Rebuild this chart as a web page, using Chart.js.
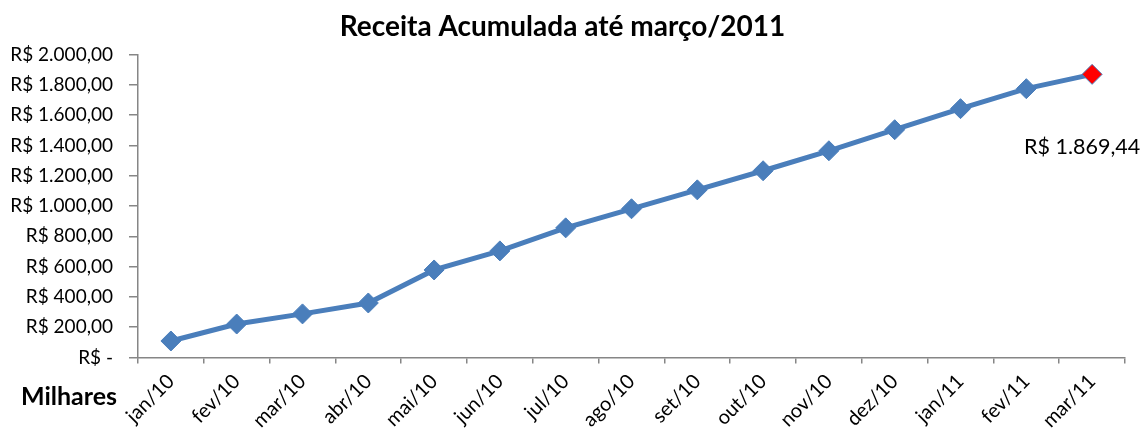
<!DOCTYPE html>
<html>
<head>
<meta charset="utf-8">
<script src="https://cdn.jsdelivr.net/npm/chart.js@4"></script>
<style>
  html, body { margin: 0; padding: 0; background: #fff; }
  #wrap { width: 1148px; height: 428px; }
</style>
</head>
<body>
<div id="wrap"><canvas id="receitaChart" width="1148" height="428"></canvas></div>
<script>
const months = ['jan/10', 'fev/10', 'mar/10', 'abr/10', 'mai/10', 'jun/10', 'jul/10',
                'ago/10', 'set/10', 'out/10', 'nov/10', 'dez/10', 'jan/11', 'fev/11', 'mar/11'];
const receita = [109, 221, 288, 360, 578, 704, 856, 982, 1107, 1233, 1365, 1504, 1643, 1775, 1869.44];
const yTicks = [0, 200, 400, 600, 800, 1000, 1200, 1400, 1600, 1800, 2000];

const FONT = 'Lato, "Open Sans", sans-serif';
const BLUE = '#4A7EBB';
const AXIS = '#868686';

// formato moeda brasileiro, ex.: R$ 1.869,44
function brl(v) {
    if (v === 0) return 'R$ -';
    const parts = v.toFixed(2).split('.');
    const inteiro = parts[0].replace(/\B(?=(\d{3})+(?!\d))/g, '.');
    return 'R$ ' + inteiro + ',' + parts[1];
}

const extras = {
    id: 'extras',
    afterDraw(chart) {
        const ctx = chart.ctx;
        ctx.save();
        // rótulo "Milhares" embaixo do eixo
        ctx.fillStyle = '#000';
        ctx.font = 'bold 25px ' + FONT;
        ctx.textAlign = 'left';
        ctx.textBaseline = 'middle';
        ctx.fillText('Milhares', 21, 397);

        // rótulo de dado do último ponto
        const meta = chart.getDatasetMeta(0);
        const last = meta.data[meta.data.length - 1];
        ctx.font = '21.5px ' + FONT;
        ctx.textAlign = 'center';
        ctx.fillText(brl(receita[receita.length - 1]), last.x - 10, last.y + 73);
        ctx.restore();
    }
};

const ctx = document.getElementById('receitaChart').getContext('2d');
const chart = new Chart(ctx, {
    type: 'line',
    data: {
        labels: months,
        datasets: [{
            data: receita,
            borderColor: BLUE,
            borderWidth: 5,
            pointStyle: 'rectRot',
            pointRadius: 10,
            pointHoverRadius: 10,
            pointBackgroundColor: receita.map((v, i) => i === receita.length - 1 ? '#FF0000' : BLUE),
            pointBorderColor: BLUE,
            pointBorderWidth: 1,
            tension: 0
        }]
    },
    options: {
        responsive: false,
        animation: false,
        layout: { padding: { left: 0, right: 23, top: 0, bottom: 0 } },
        plugins: {
            legend: { display: false },
            tooltip: { enabled: false },
            title: {
                display: true,
                text: 'Receita Acumulada até março/2011',
                color: '#000',
                font: { family: FONT, size: 28, weight: 'bold' },
                padding: { top: 10, bottom: 11 }
            }
        },
        scales: {
            x: {
                offset: true,
                grid: { offset: true, drawOnChartArea: false, tickLength: 6, color: AXIS, lineWidth: 1.5 },
                border: { color: AXIS, width: 1.5 },
                ticks: {
                    color: '#000',
                    font: { family: FONT, size: 20 },
                    minRotation: 45,
                    maxRotation: 45,
                    padding: 6,
                    autoSkip: false
                },
                afterFit(scale) { scale.height = 70.5; }
            },
            y: {
                min: 0,
                max: 2000,
                afterBuildTicks(scale) { scale.ticks = yTicks.map(v => ({ value: v })); },
                grid: { drawOnChartArea: false, tickLength: 9, color: AXIS, lineWidth: 1.5 },
                border: { color: AXIS, width: 1.5 },
                ticks: {
                    color: '#000',
                    font: { family: FONT, size: 19 },
                    padding: 16,
                    callback: v => brl(v)
                },
                afterFit(scale) { scale.width = 138; }
            }
        }
    },
    plugins: [extras]
});
</script>
</body>
</html>
